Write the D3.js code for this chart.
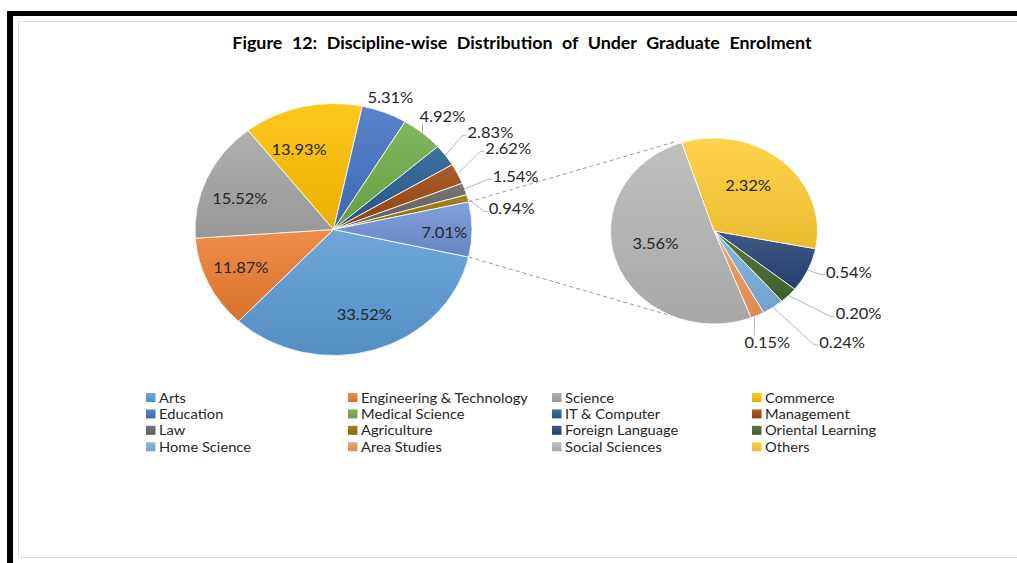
<!DOCTYPE html>
<html>
<head>
<meta charset="utf-8">
<script src="https://cdn.jsdelivr.net/npm/d3@7"></script>
<style>
  body { margin: 0; background: #fff; }
  text { font-family: Lato, "Open Sans", sans-serif; }
</style>
</head>
<body>
<div id="main"></div>
<script>
// ---- data ----
var mainCategories = ["Arts", "Engineering & Technology", "Science", "Commerce", "Education",
  "Medical Science", "IT & Computer", "Management", "Law", "Agriculture", "Other"];
var mainValues = [33.52, 11.87, 15.52, 13.93, 5.31, 4.92, 2.83, 2.62, 1.54, 0.94, 7.01];

var subCategories = ["Foreign Language", "Oriental Learning", "Home Science", "Area Studies",
  "Social Sciences", "Others"];
var subValues = [0.54, 0.20, 0.24, 0.15, 3.56, 2.32];

var legendNames = ["Arts", "Engineering & Technology", "Science", "Commerce",
  "Education", "Medical Science", "IT & Computer", "Management",
  "Law", "Agriculture", "Foreign Language", "Oriental Learning",
  "Home Science", "Area Studies", "Social Sciences", "Others"];

var colors = {
  "Arts": "#5B9BD5", "Engineering & Technology": "#ED7D31", "Science": "#A5A5A5",
  "Commerce": "#FFC000", "Education": "#4472C4", "Medical Science": "#70AD47",
  "IT & Computer": "#255E91", "Management": "#9E480E", "Law": "#636363",
  "Agriculture": "#997300", "Foreign Language": "#264478", "Oriental Learning": "#43682B",
  "Home Science": "#7CAFDD", "Area Studies": "#F1975A", "Social Sciences": "#B7B7B7",
  "Others": "#FFCD33", "Other": "#7092D6"
};

var W = 1017, H = 563;
var svg = d3.select("#main").append("svg")
  .attr("width", W).attr("height", H);

// frame
svg.append("rect").attr("x", 18.5).attr("y", 21.5).attr("width", 1030).attr("height", 536)
  .attr("fill", "#fff").attr("stroke", "#DADDE3");
svg.append("rect").attr("x", 7).attr("y", 11).attr("width", 6).attr("height", H);
svg.append("rect").attr("x", 7).attr("y", 11).attr("width", W).attr("height", 5);

// gradients, one per colour
var defs = svg.append("defs");
Object.keys(colors).forEach(function(k, i) {
  var c = colors[k];
  var g = defs.append("linearGradient").attr("id", "grad" + i)
    .attr("x1", 0).attr("y1", 0).attr("x2", 0).attr("y2", 1);
  g.append("stop").attr("offset", "0%").attr("stop-color", d3.interpolateRgb(c, "#fff")(0.12));
  g.append("stop").attr("offset", "100%").attr("stop-color", d3.rgb(c).darker(0.25));
});
function fillOf(name) { return "url(#grad" + Object.keys(colors).indexOf(name) + ")"; }

// text is slightly wider than tall in the original, so stretch it a little
function stretched(sel, x, y, sx) {
  return sel.attr("transform", "translate(" + x + "," + y + ") scale(" + sx + ",1)");
}

// title
stretched(svg.append("text"), 522, 49, 1.05)
  .attr("text-anchor", "middle")
  .style("font-weight", "bold").style("font-size", "17px").style("fill", "#000")
  .style("word-spacing", "5px")
  .text("Figure 12: Discipline-wise Distribution of Under Graduate Enrolment");

// ---- pies ----
var mainPie = { cx: 333.5, cy: 229.5, rx: 138.5, ry: 126 };
var subPie = { cx: 714, cy: 231, rx: 103.5, ry: 93 };

var mainData = mainCategories.map(function(c, i) { return { name: c, value: mainValues[i] }; });
var subData = subCategories.map(function(c, i) { return { name: c, value: subValues[i] }; });

var total = d3.sum(mainValues);
var otherAngle = mainValues[mainValues.length - 1] / total * 2 * Math.PI;
var mainStart = Math.PI / 2 + otherAngle / 2;
var subStart = 101 * Math.PI / 180;

var mainArcs = d3.pie().sort(null).value(function(d) { return d.value; })
  .startAngle(mainStart).endAngle(mainStart + 2 * Math.PI)(mainData);
var subArcs = d3.pie().sort(null).value(function(d) { return d.value; })
  .startAngle(subStart).endAngle(subStart + 2 * Math.PI)(subData);

function edge(p, a, f) {
  f = f || 1;
  return [p.cx + p.rx * f * Math.sin(a), p.cy - p.ry * f * Math.cos(a)];
}

function drawPie(p, arcs) {
  var arc = d3.arc().innerRadius(0).outerRadius(p.ry);
  svg.append("g")
    .attr("transform", "translate(" + p.cx + "," + p.cy + ") scale(" + (p.rx / p.ry) + ",1)")
    .selectAll("path")
    .data(arcs)
    .enter()
    .append("path")
      .attr("d", arc)
      .attr("fill", function(d) { return fillOf(d.data.name); })
      .attr("stroke", "#fff")
      .attr("stroke-width", 0.8)
      .attr("vector-effect", "non-scaling-stroke");
}

// connector lines between "Other" slice and the second pie
var otherArc = mainArcs[mainArcs.length - 1];
var conn = [
  [edge(mainPie, otherArc.startAngle), edge(subPie, -21 * Math.PI / 180, 1.03)],
  [edge(mainPie, otherArc.endAngle), edge(subPie, 204 * Math.PI / 180, 1.0)]
];
svg.selectAll(".conn").data(conn).enter().append("line")
  .attr("class", "conn")
  .attr("x1", function(d) { return d[0][0]; }).attr("y1", function(d) { return d[0][1]; })
  .attr("x2", function(d) { return d[1][0]; }).attr("y2", function(d) { return d[1][1]; })
  .style("stroke", "#8A9BB8").style("stroke-width", 1).style("stroke-dasharray", "4, 3");

drawPie(mainPie, mainArcs);
drawPie(subPie, subArcs);

// ---- data labels ----
// inside: f = fraction of radius along mid-angle, plus nudge; outside: text centre offset from edge
var mainLabelLayout = {
  "Arts": { f: 0.71, dx: 2, dy: 0 },
  "Engineering & Technology": { f: 0.74, dx: 0, dy: -2 },
  "Science": { f: 0.74, dx: 0, dy: 7 },
  "Commerce": { f: 0.65, dx: -14, dy: 0 },
  "Other": { f: 0.8, dx: 0, dy: 3 },
  "Education": { out: true, dx: 6, dy: -15, leader: "none" },
  "Medical Science": { out: true, dx: 20, dy: -16.5, leader: "up" },
  "IT & Computer": { out: true, dx: 45, dy: -22.5, leader: "side" },
  "Management": { out: true, dx: 50.5, dy: -25, leader: "side" },
  "Law": { out: true, dx: 51, dy: -12, leader: "side" },
  "Agriculture": { out: true, dx: 44, dy: 10.5, leader: "side" }
};
var subLabelLayout = {
  "Foreign Language": { out: true, dx: 41, dy: 2, leader: "side" },
  "Oriental Learning": { out: true, dx: 70, dy: 18.5, leader: "side" },
  "Home Science": { out: true, dx: 69, dy: 35, leader: "side" },
  "Area Studies": { out: true, dx: 10, dy: 27, leader: "down" },
  "Social Sciences": { f: 0.6, dx: 0, dy: -6 },
  "Others": { f: 0.6, dx: -7, dy: -4 }
};

function drawLabels(p, arcs, layout) {
  var g = svg.append("g");
  arcs.forEach(function(d) {
    var L = layout[d.data.name];
    var mid = (d.startAngle + d.endAngle) / 2;
    var pos, e;
    if (L.out) {
      e = edge(p, mid);
      pos = [e[0] + L.dx, e[1] + L.dy];
    } else {
      var c = edge(p, mid, L.f);
      pos = [c[0] + L.dx, c[1] + L.dy];
    }
    var t = stretched(g.append("text"), pos[0], pos[1], 1.1)
      .attr("dy", "0.36em")
      .attr("text-anchor", "middle")
      .style("font-size", "15px").style("fill", "#262626")
      .text(d.data.value.toFixed(2) + "%");
    if (!L.out || L.leader === "none") return;
    var bb = t.node().getBBox();
    var left = pos[0] + bb.x * 1.1, top = pos[1] + bb.y, bottom = top + bb.height;
    var pts;
    if (L.leader === "side") {
      var ly = pos[1] + 2.5;
      pts = [e, [left - 5, ly], [left - 1, ly]];
    } else if (L.leader === "up") {
      pts = [e, [e[0], bottom - 2]];
    } else {
      pts = [[e[0] - 3, e[1] + 2], [e[0] - 3, top + 3]];
    }
    g.append("path")
      .attr("d", d3.line()(pts))
      .attr("fill", "none")
      .style("stroke", "#A9B8CC").style("stroke-width", 1);
  });
}
drawLabels(mainPie, mainArcs, mainLabelLayout);
drawLabels(subPie, subArcs, subLabelLayout);

// ---- legend ----
var legX = [146, 348, 552, 752], legY0 = 397.5, legDy = 16.4;
var leg = svg.append("g").selectAll("g")
  .data(legendNames)
  .enter()
  .append("g")
    .attr("transform", function(d, i) {
      return "translate(" + legX[i % 4] + "," + (legY0 + Math.floor(i / 4) * legDy) + ")";
    });
leg.append("rect")
  .attr("x", 0).attr("y", -4.5).attr("width", 9.5).attr("height", 9)
  .attr("fill", function(d) { return fillOf(d); });
leg.append("text")
  .attr("transform", "translate(13,0) scale(1.05,1)")
  .attr("dy", "0.36em")
  .style("font-size", "14px").style("fill", "#262626")
  .text(function(d) { return d; });
</script>
</body>
</html>
